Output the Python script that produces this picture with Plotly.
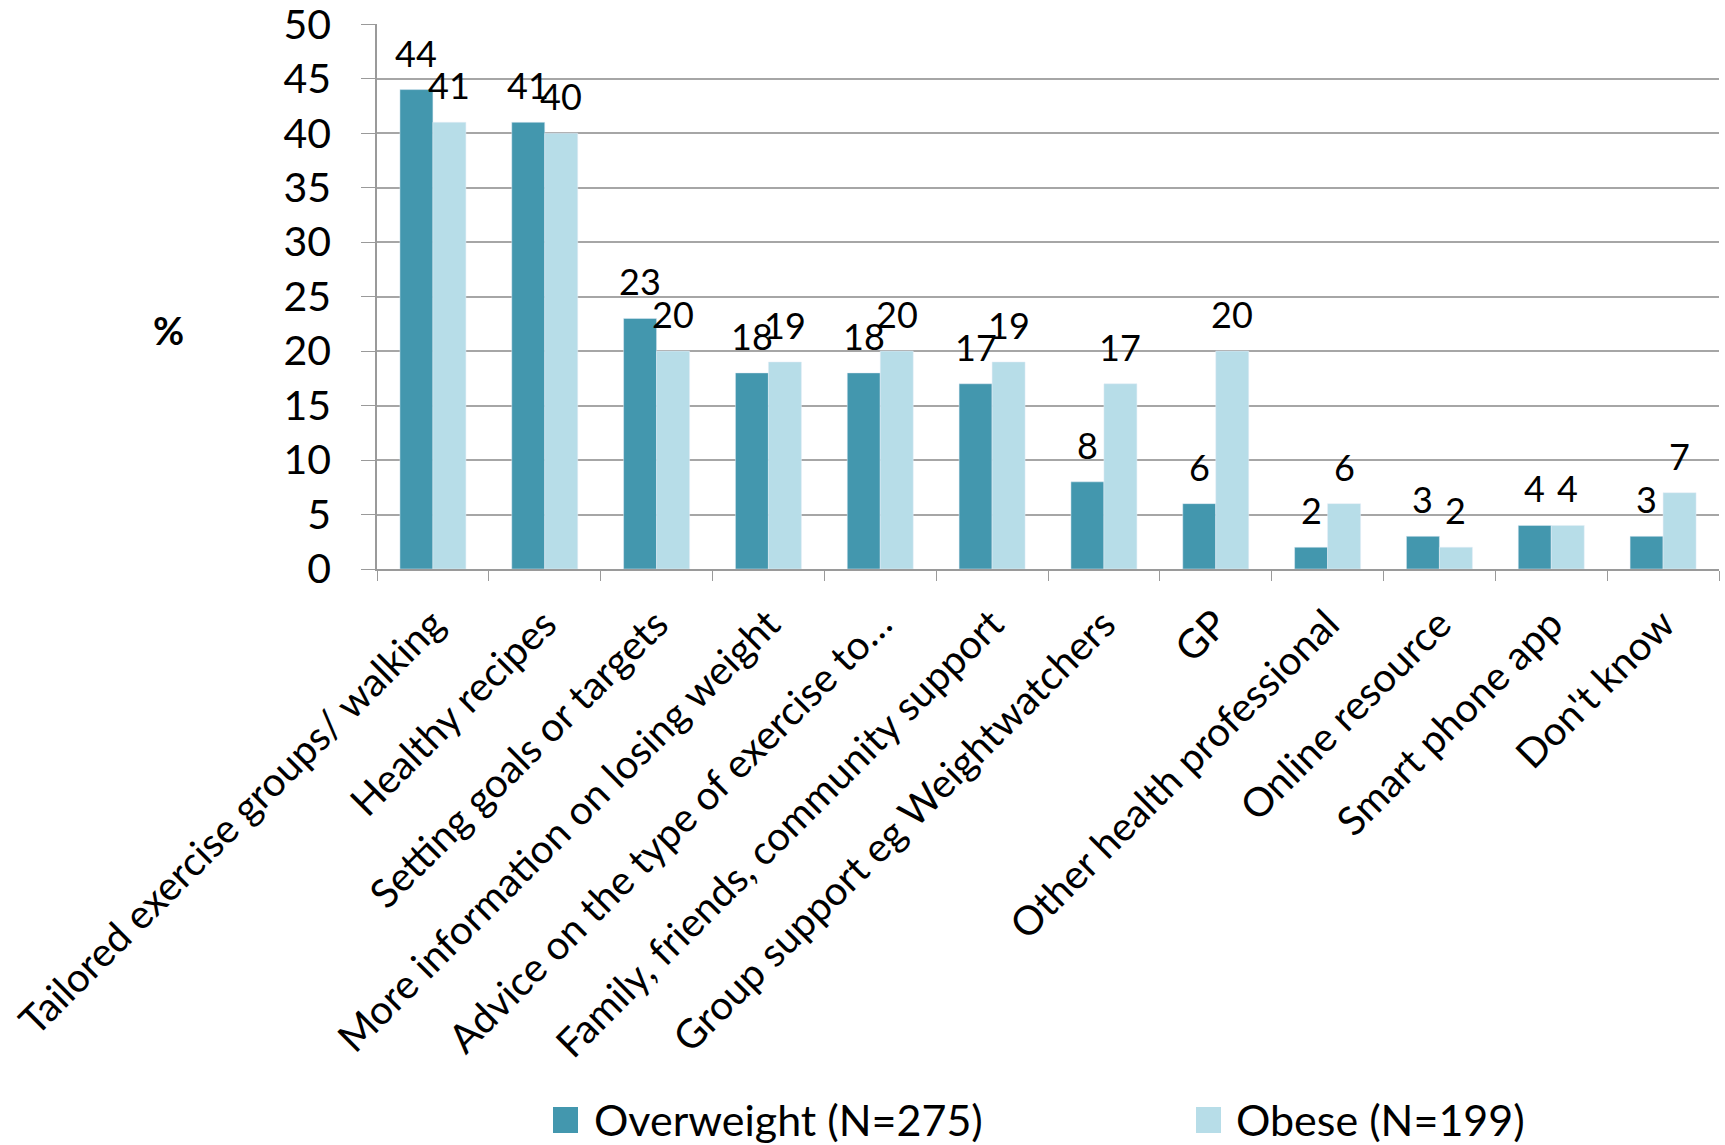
import plotly.graph_objects as go

categories = [
    "Tailored exercise groups/ walking",
    "Healthy recipes",
    "Setting goals or targets",
    "More information on losing weight",
    "Advice on the type of exercise to…",
    "Family, friends, community support",
    "Group support eg Weightwatchers",
    "GP",
    "Other health professional",
    "Online resource",
    "Smart phone app",
    "Don't know",
]
overweight = [44, 41, 23, 18, 18, 17, 8, 6, 2, 3, 4, 3]
obese = [41, 40, 20, 19, 20, 19, 17, 20, 6, 2, 4, 7]
y_ticks = [0, 5, 10, 15, 20, 25, 30, 35, 40, 45, 50]
series_names = ["Overweight (N=275)", "Obese (N=199)"]

FONT = "Lato"
DARK = "#4397AE"
LIGHT = "#B7DDE8"
W, H = 1725, 1145
L, R, T, B = 377, 6, 24, 576
PW, PH = W - L - R, H - T - B
BARGAP = 0.41
# half of one bar's width in pixels (two bars per category)
HALF_BAR = PW / len(categories) * (1 - BARGAP) / 4


def px_to_paper(x, y):
    return (x - L) / PW, (H - B - y) / PH


fig = go.Figure()
annotations = []
for k, (vals, name, color) in enumerate([(overweight, series_names[0], DARK),
                                         (obese, series_names[1], LIGHT)]):
    fig.add_trace(go.Bar(
        x=categories, y=vals, name=name,
        marker=dict(color=color),
        showlegend=False,
    ))
    # value labels centred over each bar, floating a little above it
    shift = -HALF_BAR if k == 0 else HALF_BAR
    for cat, v in zip(categories, vals):
        annotations.append(dict(
            text=str(v), x=cat, y=v, xref="x", yref="y",
            xshift=shift, yshift=13, xanchor="center", yanchor="bottom",
            showarrow=False, font=dict(family=FONT, size=36, color="black"),
        ))

# bottom legend: large swatches with labels
shapes = []
for (sx, tx), name, color in zip([(553, 592), (1196, 1234)], series_names, [DARK, LIGHT]):
    x0, y0 = px_to_paper(sx, 1133)
    x1, y1 = px_to_paper(sx + 25, 1107)
    shapes.append(dict(type="rect", xref="paper", yref="paper",
                       x0=x0, y0=y0, x1=x1, y1=y1,
                       fillcolor=color, line=dict(width=0)))
    ax, ay = px_to_paper(tx, 1120)
    annotations.append(dict(text=name, x=ax, y=ay, xref="paper", yref="paper",
                            xanchor="left", yanchor="middle", showarrow=False,
                            font=dict(family=FONT, size=43, color="black")))

px, py = px_to_paper(168, 330)
annotations.append(dict(text="<b>%</b>", x=px, y=py, xref="paper", yref="paper",
                        xanchor="center", yanchor="middle", showarrow=False,
                        font=dict(family=FONT, size=38, color="black")))

fig.update_layout(
    width=W, height=H,
    margin=dict(l=L, r=R, t=T, b=B, autoexpand=False),
    paper_bgcolor="white", plot_bgcolor="white",
    barmode="group", bargap=BARGAP, bargroupgap=0,
    font=dict(family=FONT, color="black"),
    showlegend=False,
    annotations=annotations,
    shapes=shapes,
)

fig.update_xaxes(
    type="category", tickangle=-45, automargin=False,
    tickfont=dict(family=FONT, size=40, color="black"),
    showline=True, linecolor="#9A9A9A", linewidth=1.5,
    ticks="outside", tickson="boundaries", ticklen=10, tickcolor="#9A9A9A",
    ticklabelstandoff=14,
    showgrid=False,
)
fig.update_yaxes(
    range=[0, 50.02], tickvals=y_ticks, automargin=False,
    tickfont=dict(family=FONT, size=41, color="black"),
    showline=True, linecolor="#9A9A9A", linewidth=1.5,
    ticks="outside", ticklen=14, tickcolor="#9A9A9A",
    ticklabelstandoff=22, ticklabeloverflow="allow",
    showgrid=True, gridcolor="#A6A6A6", gridwidth=1.5,
    zeroline=False,
)

fig.write_html("out.html")
